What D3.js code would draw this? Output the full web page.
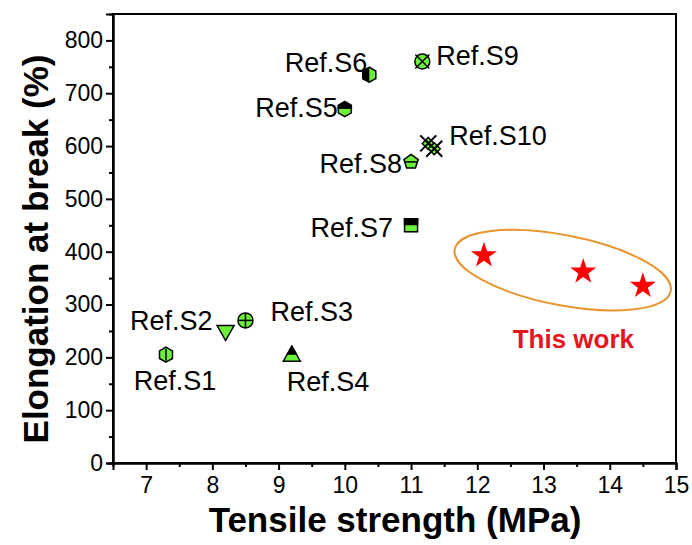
<!DOCTYPE html>
<html>
<head>
<meta charset="utf-8">
<script src="https://cdn.jsdelivr.net/npm/d3@7"></script>
<style>
  body { margin: 0; background: #fff; }
  text { font-family: "Liberation Sans", Arial, sans-serif; }
</style>
</head>
<body>
<div id="chart"></div>
<script>
// Reference data
const refLabels = ["Ref.S1", "Ref.S2", "Ref.S3", "Ref.S4", "Ref.S5", "Ref.S6", "Ref.S7", "Ref.S8", "Ref.S9", "Ref.S10", "Ref.S10"];
const refStrength = [7.3, 8.2, 8.5, 9.2, 10.0, 10.37, 11.0, 11.0, 11.17, 11.26, 11.35];
const refElongation = [205, 248, 270, 205, 670, 735, 450, 570, 760, 605, 595];
const refShapes = ["hexV", "triDown", "circPlus", "triUpHalf", "hexTopHalf", "hexLeftHalf", "sqTopHalf", "pent", "circX", "crossX", "crossX"];

// This work
const workStrength = [12.1, 13.6, 14.5];
const workElongation = [393, 362, 335];

const xTicks = [7, 8, 9, 10, 11, 12, 13, 14, 15];
const yTicks = [0, 100, 200, 300, 400, 500, 600, 700, 800];

// label placement relative to marker (px)
const labelPos = [
    {dx: 9, dy: 26, anchor: "middle"},
    {dx: -13, dy: -11, anchor: "end"},
    {dx: 25, dy: -9, anchor: "start"},
    {dx: -5, dy: 27, anchor: "start"},
    {dx: -7, dy: -2, anchor: "end"},
    {dx: -2, dy: -12, anchor: "end"},
    {dx: -18, dy: 2, anchor: "end"},
    {dx: -9, dy: 2, anchor: "end"},
    {dx: 14, dy: -6, anchor: "start"},
    {dx: 21, dy: -8, anchor: "start"},
    null
];

const width = 692, height = 545;
const margin = {top: 14, right: 16, bottom: 82, left: 113};
const green = "#6cf03a";

const svg = d3.select("#chart").append("svg")
    .attr("width", width).attr("height", height);

const x = d3.scaleLinear().domain([6.5, 15]).range([margin.left, width - margin.right]);
const y = d3.scaleLinear().domain([0, 850]).range([height - margin.bottom, margin.top]);

// frame
svg.append("rect")
    .attr("x", margin.left).attr("y", margin.top)
    .attr("width", width - margin.left - margin.right)
    .attr("height", height - margin.top - margin.bottom)
    .attr("fill", "none").attr("stroke", "#000").attr("stroke-width", 2);

// minor ticks
const xMinor = d3.range(7.5, 15, 1);
const yMinor = d3.range(50, 850, 100);

svg.append("g")
    .attr("transform", `translate(0,${height - margin.bottom})`)
    .call(d3.axisBottom(x).tickValues(xTicks).tickSize(7).tickPadding(7).tickFormat(d3.format("d")));
svg.append("g")
    .attr("transform", `translate(0,${height - margin.bottom})`)
    .call(d3.axisBottom(x).tickValues(xMinor).tickSize(4).tickFormat(""));

svg.append("g")
    .attr("transform", `translate(${margin.left},0)`)
    .call(d3.axisLeft(y).tickValues(yTicks).tickSize(7).tickPadding(3).tickFormat(d3.format("d")));
svg.append("g")
    .attr("transform", `translate(${margin.left},0)`)
    .call(d3.axisLeft(y).tickValues(yMinor).tickSize(4).tickFormat(""));

svg.selectAll(".domain").attr("stroke-width", 2);
svg.selectAll(".tick line").attr("stroke-width", 2);
svg.selectAll(".tick text").attr("font-size", 23).attr("fill", "#000")
    .style("font-family", "'Liberation Sans', Arial, sans-serif");

// axis titles
svg.append("text")
    .attr("x", 395)
    .attr("y", 532)
    .attr("text-anchor", "middle")
    .attr("font-size", 35).attr("font-weight", "bold")
    .text("Tensile strength (MPa)");

svg.append("text")
    .attr("transform", `translate(48,249) rotate(-90)`)
    .attr("text-anchor", "middle")
    .attr("font-size", 35).attr("font-weight", "bold")
    .text("Elongation at break (%)");

// marker shapes
const defs = svg.append("defs");
defs.append("clipPath").attr("id", "clipTop")
    .append("rect").attr("x", -20).attr("y", -20).attr("width", 40).attr("height", 20);
defs.append("clipPath").attr("id", "clipLeft")
    .append("rect").attr("x", -20).attr("y", -20).attr("width", 20).attr("height", 40);

function polygon(n, r, rot) {
    const pts = d3.range(n).map(i => {
        const a = rot + i * 2 * Math.PI / n;
        return [r * Math.cos(a), r * Math.sin(a)];
    });
    return "M" + pts.map(p => p.join(",")).join("L") + "Z";
}
const hexPath = polygon(6, 7.5, -Math.PI / 2);
const pentPath = polygon(5, 7.5, -Math.PI / 2);

function drawMarker(g, shape) {
    const stroke = {stroke: "#000", "stroke-width": 1.5};
    const add = (tag, attrs) => {
        const el = g.append(tag);
        Object.entries(Object.assign({}, stroke, attrs)).forEach(([k, v]) => el.attr(k, v));
        return el;
    };
    if (shape === "hexV") {
        add("path", {d: hexPath, fill: green});
        add("line", {x1: 0, x2: 0, y1: -6, y2: 6});
    } else if (shape === "triDown") {
        add("path", {d: "M-8.5,-6.5L8.5,-6.5L0,8.5Z", fill: green});
    } else if (shape === "circPlus") {
        add("circle", {r: 7.5, fill: green});
        add("line", {x1: -7.5, x2: 7.5, y1: 0, y2: 0});
        add("line", {x1: 0, x2: 0, y1: -7.5, y2: 7.5});
    } else if (shape === "triUpHalf") {
        const d = "M0,-8.5L8.5,6.5L-8.5,6.5Z";
        add("path", {d: d, fill: green});
        add("path", {d: d, fill: "#000", "clip-path": "url(#clipTop)"});
    } else if (shape === "hexTopHalf") {
        add("path", {d: hexPath, fill: green});
        add("path", {d: hexPath, fill: "#000", "clip-path": "url(#clipTop)"});
    } else if (shape === "hexLeftHalf") {
        add("path", {d: hexPath, fill: green});
        add("path", {d: hexPath, fill: "#000", "clip-path": "url(#clipLeft)"});
    } else if (shape === "sqTopHalf") {
        add("rect", {x: -6.5, y: -6.5, width: 13, height: 13, fill: green});
        add("rect", {x: -6.5, y: -6.5, width: 13, height: 13, fill: "#000", "clip-path": "url(#clipTop)"});
    } else if (shape === "pent") {
        add("path", {d: pentPath, fill: green});
        add("line", {x1: -6.5, x2: 6.5, y1: 0, y2: 0});
    } else if (shape === "circX") {
        add("circle", {r: 7.5, fill: green});
        add("line", {x1: -7, x2: 7, y1: -7, y2: 7});
        add("line", {x1: -7, x2: 7, y1: 7, y2: -7});
    } else if (shape === "crossX") {
        add("path", {d: "M0,-6L6,0L0,6L-6,0Z", fill: green});
        add("line", {x1: -8, x2: 8, y1: -8, y2: 8, "stroke-width": 2});
        add("line", {x1: -8, x2: 8, y1: 8, y2: -8, "stroke-width": 2});
    }
}

const refData = refLabels.map((l, i) => ({
    label: l, tx: refStrength[i], ey: refElongation[i], shape: refShapes[i], pos: labelPos[i]
}));

const markers = svg.append("g").selectAll("g")
    .data(refData)
    .join("g")
    .attr("transform", d => `translate(${x(d.tx)},${y(d.ey)})`);
markers.each(function (d) { drawMarker(d3.select(this), d.shape); });

svg.append("g").selectAll("text")
    .data(refData.filter(d => d.pos))
    .join("text")
    .attr("x", d => x(d.tx) + d.pos.dx)
    .attr("y", d => y(d.ey) + d.pos.dy)
    .attr("dy", "0.35em")
    .attr("text-anchor", d => d.pos.anchor)
    .attr("font-size", 27)
    .text(d => d.label);

// this work
const star = d3.symbol().type(d3.symbolStar).size(210);
svg.append("g").selectAll("path")
    .data(workStrength.map((s, i) => ({s: s, e: workElongation[i]})))
    .join("path")
    .attr("d", star)
    .attr("transform", d => `translate(${x(d.s)},${y(d.e)})`)
    .attr("fill", "#ff0000");

svg.append("ellipse")
    .attr("cx", x(13.29)).attr("cy", y(365))
    .attr("rx", 110).attr("ry", 35)
    .attr("transform", `rotate(11,${x(13.29)},${y(365)})`)
    .attr("fill", "none").attr("stroke", "#e8952e").attr("stroke-width", 2);

svg.append("text")
    .attr("x", x(13.45)).attr("y", y(235))
    .attr("dy", "0.35em")
    .attr("text-anchor", "middle")
    .attr("font-size", 26).attr("font-weight", "bold")
    .attr("fill", "#e8141c")
    .text("This work");
</script>
</body>
</html>
